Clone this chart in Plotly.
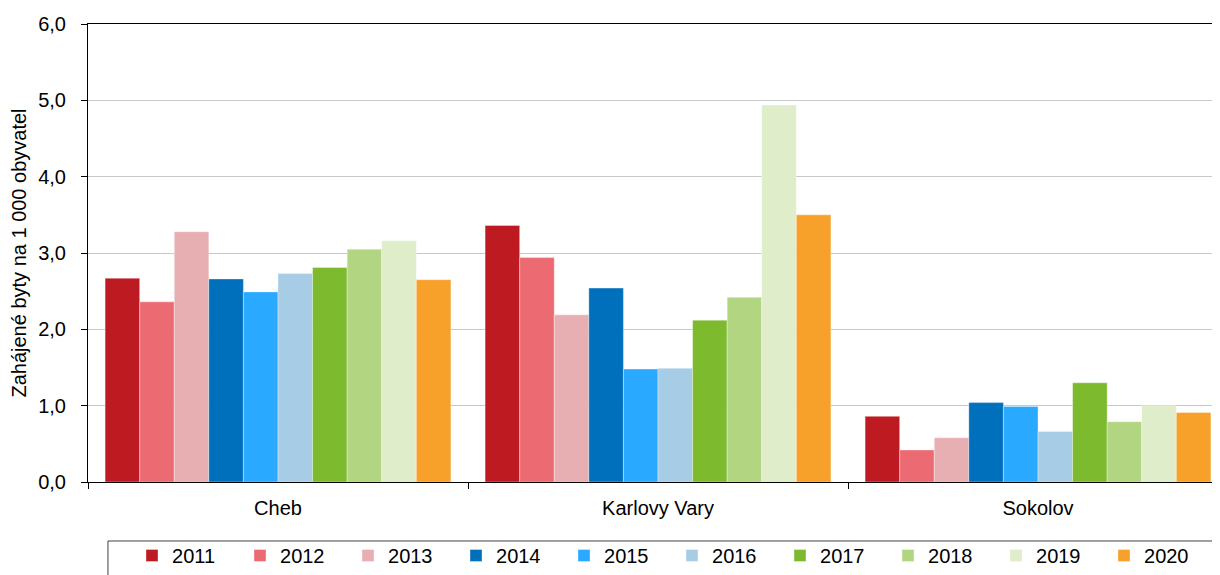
import plotly.graph_objects as go

districts = ["Cheb", "Karlovy Vary", "Sokolov"]
years = ["2011", "2012", "2013", "2014", "2015", "2016", "2017", "2018", "2019", "2020"]
values = {
    "2011": [2.67, 3.36, 0.86],
    "2012": [2.36, 2.94, 0.42],
    "2013": [3.28, 2.19, 0.58],
    "2014": [2.66, 2.54, 1.04],
    "2015": [2.49, 1.48, 0.99],
    "2016": [2.73, 1.49, 0.66],
    "2017": [2.81, 2.12, 1.30],
    "2018": [3.05, 2.42, 0.79],
    "2019": [3.16, 4.94, 1.00],
    "2020": [2.65, 3.50, 0.91],
}
colors = ["#BE1A22", "#EC6B73", "#E8AFB2", "#0070BC", "#29A9FF",
          "#A7CCE6", "#7DBA2E", "#B1D581", "#DFEDCA", "#F8A12A"]
y_ticks = [0, 1, 2, 3, 4, 5, 6]
y_ticklabels = ["0,0", "1,0", "2,0", "3,0", "4,0", "5,0", "6,0"]

font = "Liberation Sans, Arial, sans-serif"

fig = go.Figure()
for yr, col in zip(years, colors):
    fig.add_trace(go.Bar(
        x=districts, y=values[yr], name=yr,
        marker=dict(color=col, line=dict(color="rgba(255,255,255,0.6)", width=0.6)),
    ))

# legend frame (extends beyond the bottom/right edge as in the reference)
fig.add_shape(type="rect", xref="paper", yref="paper",
              x0=0.0175, x1=1.2, y0=-0.1288, y1=-0.5,
              line=dict(color="#404040", width=1), fillcolor="rgba(0,0,0,0)", layer="above")

fig.update_layout(
    width=1220, height=575,
    margin=dict(l=80, r=0, t=16, b=101, autoexpand=False),
    paper_bgcolor="white", plot_bgcolor="white",
    barmode="group", bargap=0.09, bargroupgap=0,
    font=dict(family=font, size=20, color="#000000"),
    showlegend=True,
    legend=dict(
        orientation="h", x=0.0386, y=-0.1179, xanchor="left", yanchor="top",
        borderwidth=0, bgcolor="rgba(0,0,0,0)",
        font=dict(family=font, size=20, color="#000000"),
        entrywidth=63, entrywidthmode="pixels",
        traceorder="normal",
    ),
    xaxis=dict(
        type="category", range=[-0.5, 2.5],
        showline=True, linecolor="#000000", linewidth=1, mirror=True,
        ticks="outside", tickson="boundaries", ticklen=6, tickcolor="#000000",
        showgrid=False, tickfont=dict(size=20), ticklabelstandoff=8,
    ),
    yaxis=dict(
        range=[0, 6], tickvals=y_ticks, ticktext=y_ticklabels,
        showline=True, linecolor="#000000", linewidth=1,
        ticks="outside", ticklen=6, tickcolor="#000000",
        showgrid=True, gridcolor="#C8C8C8", gridwidth=1,
        zeroline=False, tickfont=dict(size=20), ticklabelstandoff=11,
        title=dict(text="Zahájené byty na 1 000 obyvatel", font=dict(size=20), standoff=6),
    ),
)

fig.write_html("out.html")
